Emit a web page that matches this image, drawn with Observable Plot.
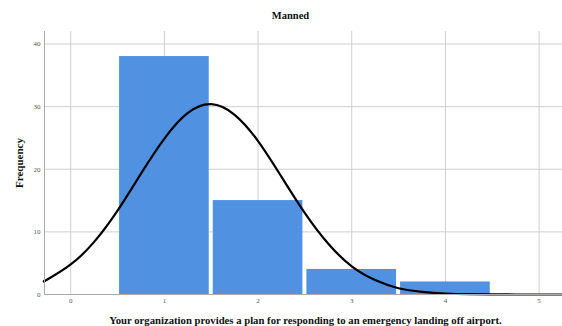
<!DOCTYPE html>
<html><head><meta charset="utf-8">
<script src="https://cdn.jsdelivr.net/npm/d3@7"></script>
<script src="https://cdn.jsdelivr.net/npm/@observablehq/plot@0.6"></script>
<style>
body{margin:0;background:#fff;}
svg{display:block;}
</style></head>
<body><div id="chart"></div>
<script>
const title = "Manned";
const xLabel = "Your organization provides a plan for responding to an emergency landing off airport.";
const yLabel = "Frequency";
const categories = [1, 2, 3, 4];
const counts = [38, 15, 4, 2];
const xTicks = [0, 1, 2, 3, 4, 5];
const yTicks = [0, 10, 20, 30, 40];
// fitted normal curve
const curveX = [-0.28, -0.25, 0, 0.25, 0.5, 0.75, 1, 1.25, 1.5, 1.75, 2, 2.25, 2.5, 2.75, 3, 3.25, 3.5, 3.75, 4, 4.25, 4.5, 4.75, 5, 5.25];
const curveY = [2.2, 2.4, 4.8, 8.4, 13.4, 19.3, 24.9, 29.0, 30.4, 28.7, 24.5, 18.8, 13.0, 8.1, 4.5, 2.3, 1.0, 0.43, 0.16, 0.05, 0.015, 0.004, 0.001, 0];

const bars = categories.map((c, i) => ({cat: c, n: counts[i]}));
const curve = curveX.map((x, i) => ({x, y: curveY[i]}));
const serif = "'Liberation Serif','Times New Roman',serif";

const chart = Plot.plot({
  width: 562, height: 326,
  marginLeft: 44, marginRight: 0, marginTop: 31, marginBottom: 32,
  style: {fontFamily: serif, background: "#fff"},
  x: {domain: [-0.28, 5.25]},
  y: {domain: [0, 42]},
  marks: [
    Plot.gridX(xTicks, {stroke: "#cfcfcf", strokeOpacity: 1}),
    Plot.gridY(yTicks, {stroke: "#cfcfcf", strokeOpacity: 1, x1: -0.28, x2: 5.25}),
    Plot.rectY(bars, {x1: d => d.cat - 0.5, x2: d => d.cat + 0.5, y: "n", fill: "#5191e1", insetLeft: 2, insetRight: 2}),
    Plot.line(curve, {x: "x", y: "y", stroke: "#000", strokeWidth: 2.2, curve: "natural"}),
    Plot.axisX({ticks: xTicks, tickFormat: "d", tickSize: 0, tickPadding: 4, fontSize: 7, color: "#555", label: null}),
    Plot.axisY({ticks: yTicks, tickFormat: "d", tickSize: 0, tickPadding: 4, fontSize: 7, color: "#555", label: null}),
    Plot.frame({anchor: "left", stroke: "#aaa"}),
    Plot.frame({anchor: "bottom", stroke: "#aaa"}),
    Plot.text([title], {frameAnchor: "top", lineAnchor: "middle", dy: -16, dx: -13, fontWeight: "bold", fontSize: 10.5, fill: "#111"}),
    Plot.text([xLabel], {frameAnchor: "bottom", lineAnchor: "middle", dy: 26, dx: 2, fontWeight: "bold", fontSize: 10.7, fill: "#111"}),
    Plot.text([yLabel], {frameAnchor: "left", textAnchor: "middle", lineAnchor: "middle", rotate: -90, dx: -25, fontWeight: "bold", fontSize: 11, fill: "#111"})
  ]
});
document.getElementById("chart").append(chart);
</script></body></html>
